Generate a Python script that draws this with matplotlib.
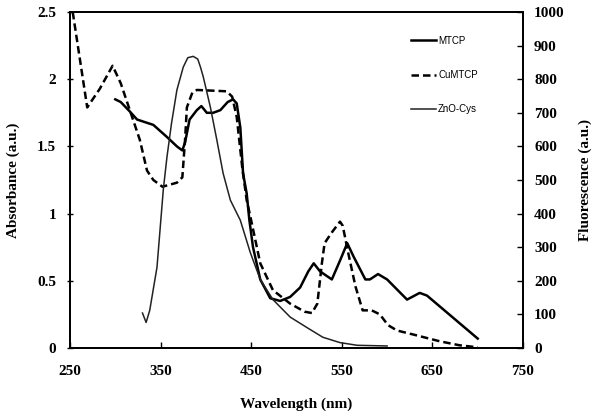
import matplotlib
matplotlib.use("Agg")
import matplotlib.pyplot as plt

# Absorbance spectra (left axis)
mtcp_nm = [300, 306, 316, 324, 342, 357, 368, 374, 377, 382, 390, 395, 401, 408, 416,
           424, 430, 434, 438, 441, 445, 448, 452, 460, 471, 482, 493, 504, 513, 519,
           526, 539, 548, 556, 563, 576, 581, 590, 600, 622, 636, 644, 700]
mtcp_abs = [1.85, 1.83, 1.76, 1.70, 1.66, 1.57, 1.50, 1.47, 1.53, 1.70, 1.77, 1.80, 1.75, 1.75, 1.77,
            1.83, 1.85, 1.82, 1.64, 1.30, 1.15, 0.95, 0.75, 0.51, 0.37, 0.35, 0.38, 0.45, 0.57, 0.63,
            0.57, 0.51, 0.65, 0.78, 0.68, 0.51, 0.51, 0.55, 0.51, 0.36, 0.41, 0.39, 0.07]

cumtcp_nm = [253, 269, 283, 297, 306, 316, 327, 335, 342, 352, 368, 374, 377, 379, 385,
             390, 423, 429, 434, 440, 445, 449, 460, 474, 493, 509, 517, 523, 528, 531,
             539, 548, 551, 557, 565, 573, 583, 592, 601, 611, 629, 658, 680, 700]
cumtcp_abs = [2.50, 1.79, 1.93, 2.10, 1.97, 1.77, 1.55, 1.32, 1.25, 1.20, 1.23, 1.27, 1.55, 1.79, 1.90,
              1.92, 1.91, 1.87, 1.72, 1.35, 1.10, 0.98, 0.63, 0.43, 0.33, 0.27, 0.26, 0.33, 0.63, 0.78,
              0.86, 0.94, 0.91, 0.71, 0.46, 0.28, 0.28, 0.25, 0.17, 0.13, 0.10, 0.05, 0.02, 0.005]

# Fluorescence spectrum (right axis)
zno_nm = [330, 334, 338, 346, 353, 357, 362, 368, 375, 380, 386, 391, 394, 397, 405,
          412, 419, 427, 438, 449, 460, 474, 493, 512, 529, 548, 567, 600]
zno_fl = [104, 76, 112, 240, 472, 568, 668, 768, 836, 864, 868, 860, 836, 808, 716,
          620, 520, 440, 380, 284, 204, 144, 92, 60, 32, 16, 8, 6]

serif = "Liberation Serif"

fig = plt.figure(figsize=(6.04, 4.17), dpi=100)
ax = fig.add_axes([0.1159, 0.1655, 0.7500, 0.8057])
ax2 = ax.twinx()

l1, = ax.plot(mtcp_nm, mtcp_abs, color="black", lw=1.8, label="MTCP")
l2, = ax.plot(cumtcp_nm, cumtcp_abs, color="black", lw=1.8, ls=(0, (3, 1.6)), label="CuMTCP")
l3, = ax2.plot(zno_nm, zno_fl, color="#222222", lw=1.1, label="ZnO-Cys")

ax.set_xlim(250, 750)
ax.set_ylim(0, 2.5)
ax2.set_ylim(0, 1000)
ax.set_xticks([250, 350, 450, 550, 650, 750])
ax.set_yticks([0, 0.5, 1, 1.5, 2, 2.5])
ax.set_yticklabels(["0", "0.5", "1", "1.5", "2", "2.5"])
ax2.set_yticks(range(0, 1001, 100))

for a in (ax, ax2):
    for s in a.spines.values():
        s.set_linewidth(1.3)
ax.tick_params(axis="x", direction="in", length=4, width=1, pad=12)
ax.tick_params(axis="y", direction="inout", length=4, width=1, pad=8)
ax2.tick_params(axis="y", direction="in", length=4, width=1, pad=8)

for lab in ax.get_xticklabels() + ax.get_yticklabels() + ax2.get_yticklabels():
    lab.set_fontfamily(serif)
    lab.set_fontweight("bold")
    lab.set_fontsize(11)

ax.set_xlabel("Wavelength (nm)", fontfamily=serif, fontweight="bold", fontsize=11, labelpad=14)
ax.set_ylabel("Absorbance (a.u.)", fontfamily=serif, fontweight="bold", fontsize=11, labelpad=12)
ax2.set_ylabel("Fluorescence (a.u.)", fontfamily=serif, fontweight="bold", fontsize=11, labelpad=10)

leg = ax2.legend(handles=[l1, l2, l3], loc="upper left", bbox_to_anchor=(0.733, 0.955),
                 frameon=False, handlelength=2.6, handletextpad=0.2, labelspacing=2.5,
                 prop={"family": "Liberation Sans", "size": 7})

fig.savefig("out.png", dpi=100)
